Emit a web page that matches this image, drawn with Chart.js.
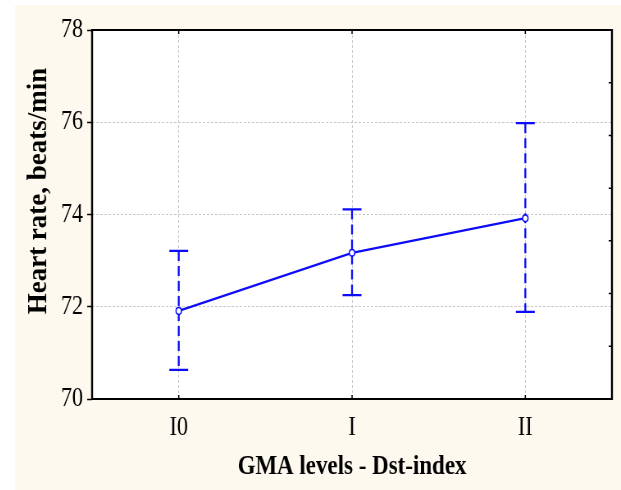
<!DOCTYPE html>
<html>
<head>
<meta charset="utf-8">
<script src="https://cdn.jsdelivr.net/npm/chart.js@4"></script>
<style>
  body { margin: 0; background: #fff; }
  #wrap { position: absolute; left: 15px; top: 5px; width: 606px; height: 485px; background: #fef9ef; overflow: hidden; }
  /* the original figure is squeezed horizontally, so draw wide and compress */
  #chart { transform: scaleX(0.82); transform-origin: 0 0; }
</style>
</head>
<body>
<div id="wrap"><canvas id="chart" width="739" height="485"></canvas></div>
<script>
// ── Data ─────────────────────────────────────────────────
const CATEGORIES = ["I0", "I", "II"];
const MEANS = [71.91, 73.17, 73.92];
const LOWER = [70.63, 72.25, 71.89];
const UPPER = [73.21, 74.11, 75.98];
const Y_MIN = 70, Y_MAX = 78, Y_STEP = 2;
const RIGHT_DIVISIONS = 7; // minor ticks on the right frame

// ── Style ────────────────────────────────────────────────
const SQUEEZE = 0.82;
const BLUE = "rgb(12,12,250)";
const GRID = "#c8c8c8";
const FONT = "'Liberation Serif', 'Times New Roman', serif";

// plot frame, error bars, inward ticks and the rotated y title
const framePlugin = {
  id: "frame",
  beforeDraw(chart) {
    const { ctx, chartArea: a } = chart;
    ctx.save();
    ctx.fillStyle = "#fff";
    ctx.fillRect(a.left, a.top, a.right - a.left, a.bottom - a.top);
    ctx.restore();
  },
  beforeDatasetsDraw(chart) {
    const { ctx } = chart;
    const x = chart.scales.x, y = chart.scales.y;
    ctx.save();
    ctx.strokeStyle = BLUE;
    ctx.lineWidth = 2.3;
    CATEGORIES.forEach((c, i) => {
      const px = x.getPixelForValue(i);
      const top = y.getPixelForValue(UPPER[i]);
      const bot = y.getPixelForValue(LOWER[i]);
      ctx.setLineDash([10, 5]);
      ctx.beginPath();
      ctx.moveTo(px, top);
      ctx.lineTo(px, bot);
      ctx.stroke();
      ctx.setLineDash([]);
      ctx.beginPath();
      ctx.moveTo(px - 11.5, top); ctx.lineTo(px + 11.5, top);
      ctx.moveTo(px - 11.5, bot); ctx.lineTo(px + 11.5, bot);
      ctx.stroke();
    });
    ctx.restore();
  },
  afterDraw(chart) {
    const { ctx, chartArea: a } = chart;
    const x = chart.scales.x, y2 = chart.scales.y2;
    ctx.save();
    ctx.strokeStyle = "#000";
    ctx.lineWidth = 2;
    ctx.beginPath();
    ctx.moveTo(a.left, a.top); ctx.lineTo(a.right, a.top);
    ctx.moveTo(a.left, a.bottom); ctx.lineTo(a.right, a.bottom);
    ctx.stroke();
    ctx.lineWidth = 2.4; // vertical sides get squeezed
    ctx.beginPath();
    ctx.moveTo(a.left, a.top - 1); ctx.lineTo(a.left, a.bottom + 1);
    ctx.moveTo(a.right, a.top - 1); ctx.lineTo(a.right, a.bottom + 1);
    ctx.stroke();

    // inward ticks: categories on top/bottom, minor ticks on the right
    ctx.lineWidth = 1.5;
    ctx.beginPath();
    CATEGORIES.forEach((c, i) => {
      const px = x.getPixelForValue(i);
      ctx.moveTo(px, a.top); ctx.lineTo(px, a.top + 4);
      ctx.moveTo(px, a.bottom); ctx.lineTo(px, a.bottom - 4);
    });
    for (let k = 1; k < RIGHT_DIVISIONS; k++) {
      const py = y2.getPixelForValue(k);
      ctx.moveTo(a.right, py); ctx.lineTo(a.right - 4, py);
    }
    ctx.stroke();

    // y title, undo the horizontal squeeze so it keeps its thickness
    ctx.translate(30, 186);
    ctx.scale(1 / SQUEEZE, 1);
    ctx.rotate(-Math.PI / 2);
    ctx.fillStyle = "#000";
    ctx.font = "bold 27px " + FONT;
    ctx.textAlign = "center";
    ctx.textBaseline = "middle";
    ctx.fillText("Heart rate, beats/min", 0, 0);
    ctx.restore();
  }
};

new Chart(document.getElementById("chart"), {
  type: "line",
  data: {
    labels: CATEGORIES,
    datasets: [{
      data: MEANS,
      borderColor: BLUE,
      borderWidth: 2.3,
      tension: 0,
      fill: false,
      pointRadius: 3.3,
      pointBackgroundColor: "#fff",
      pointBorderColor: BLUE,
      pointBorderWidth: 1.5
    }]
  },
  plugins: [framePlugin],
  options: {
    responsive: false,
    animation: false,
    devicePixelRatio: 1,
    layout: { padding: { top: 25, right: 11, bottom: 6, left: 0 } },
    plugins: {
      legend: { display: false },
      tooltip: { enabled: false }
    },
    scales: {
      x: {
        offset: true,
        grid: { offset: false, color: GRID, drawTicks: false },
        border: { display: false, dash: [3, 2] },
        ticks: { color: "#000", font: { family: FONT, size: 27 }, padding: 13 },
        title: {
          display: true,
          text: "GMA levels - Dst-index",
          color: "#000",
          font: { family: FONT, size: 28, weight: "bold" },
          padding: 0
        },
        afterFit: s => { s.height = 85; }
      },
      y: {
        min: Y_MIN,
        max: Y_MAX,
        ticks: { stepSize: Y_STEP, color: "#000", font: { family: FONT, size: 27 }, padding: 5 },
        grid: {
          color: c => (c.tick.value === Y_MIN || c.tick.value === Y_MAX) ? "rgba(0,0,0,0)" : GRID,
          tickColor: "#000",
          tickLength: 6,
          tickWidth: 1.5
        },
        border: { display: false, dash: [3, 2] },
        afterFit: s => { s.width = 94; }
      },
      y2: {
        position: "right",
        display: false,
        min: 0,
        max: RIGHT_DIVISIONS,
        ticks: { stepSize: 1 }
      }
    }
  }
});
</script>
</body>
</html>
